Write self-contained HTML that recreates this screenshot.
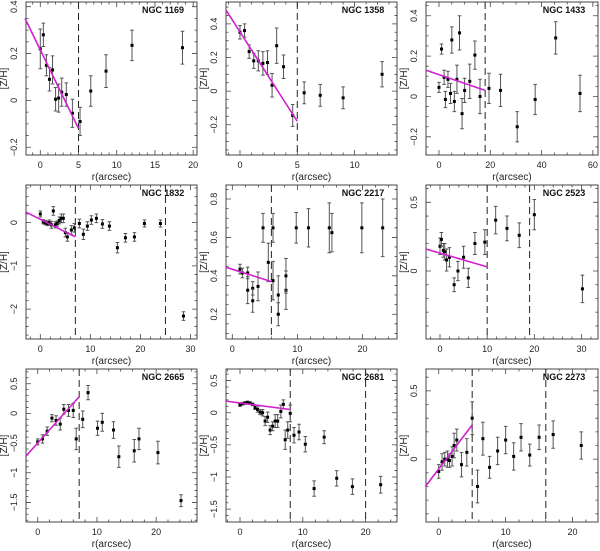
<!DOCTYPE html>
<html><head><meta charset="utf-8"><style>
html,body{margin:0;padding:0;background:#fff;}
svg{display:block;font-family:"Liberation Sans",sans-serif;}
</style></head><body>
<svg id="fig" width="600" height="551" viewBox="0 0 600 551" xmlns="http://www.w3.org/2000/svg"></svg>
<script>
// ---- data (per panel: r, [Z/H], error) ----
const p1r=[0,0.4,0.8,1.2,1.6,2.0,2.4,2.8,3.4,4.2,5.2,6.6,8.6,12,18.6];
const p1z=[0.22,0.28,0.15,0.09,0.13,0.005,0.01,0.035,0.025,-0.055,-0.09,0.04,0.125,0.235,0.225];
const p1e=[0.085,0.05,0.045,0.05,0.06,0.05,0.06,0.06,0.05,0.06,0.06,0.065,0.07,0.065,0.07];
const p2r=[0,0.4,0.8,1.2,1.6,2,2.4,2.8,3.2,3.8,4.6,5.6,7,9,12.4];
const p2z=[0.35,0.36,0.235,0.18,0.18,0.165,0.17,0.035,0.27,0.145,-0.145,-0.01,-0.025,-0.04,0.10];
const p2e=[0.04,0.04,0.04,0.045,0.06,0.07,0.07,0.07,0.105,0.07,0.065,0.065,0.065,0.065,0.075];
const p3r=[0,1,2,2.5,3.5,4.5,5,6,7,8,9,10,12,14,16,19.5,24,30.5,37.5,45.5,55];
const p3z=[0.045,0.235,0.095,-0.015,0.085,0.015,0.28,-0.025,0.085,0.315,-0.085,0.03,0.075,0.205,0,0.04,0.03,-0.15,-0.015,0.29,0.015];
const p3e=[0.025,0.025,0.035,0.04,0.04,0.05,0.065,0.05,0.07,0.085,0.075,0.06,0.085,0.07,0.085,0.075,0.08,0.075,0.075,0.08,0.09];
const p4r=[0,0.6,1,1.4,1.8,2.2,2.6,3,3.4,3.8,4.2,4.6,5,5.4,6.2,6.8,7.8,8.6,9.4,10.2,11.2,12.4,13.8,15.4,17,18.8,20.8,24,28.6];
const p4z=[0.2,0.02,0,-0.02,0,-0.05,0.27,-0.05,-0.02,0.05,0.1,0.1,-0.23,-0.33,-0.17,-0.12,-0.02,-0.27,-0.08,0.06,0.1,-0.03,-0.08,-0.58,-0.35,-0.33,-0.02,-0.02,-2.16];
const p4e=[0.07,0.05,0.05,0.05,0.06,0.08,0.1,0.07,0.06,0.08,0.1,0.1,0.1,0.1,0.1,0.1,0.1,0.12,0.1,0.1,0.1,0.1,0.1,0.12,0.1,0.1,0.08,0.08,0.1];
const p5r=[1.18,1.54,2.36,2.36,3.13,3.13,3.95,4.72,5.53,6.25,6.25,7.06,7.06,8.24,8.24,9.82,11.7,14.9,15.3,19.9,23.1];
const p5z=[0.435,0.415,0.415,0.325,0.335,0.27,0.345,0.65,0.47,0.375,0.65,0.3,0.2,0.325,0.4,0.65,0.65,0.65,0.625,0.65,0.65];
const p5e=[0.025,0.025,0.03,0.07,0.035,0.06,0.075,0.075,0.1,0.1,0.075,0.1,0.06,0.1,0.09,0.08,0.1,0.13,0.1,0.13,0.15];
const p6r=[0,0.3,0.7,1,1.4,2,3,3.8,5,6,7.4,9.5,11.8,14.2,16.8,20,30.2];
const p6z=[0.18,0.23,0.15,0.14,0.08,0.1,-0.1,0,0.1,-0.05,0.2,0.21,0.37,0.31,0.26,0.41,-0.13];
const p6e=[0.06,0.05,0.05,0.06,0.08,0.07,0.05,0.07,0.08,0.07,0.08,0.09,0.1,0.09,0.09,0.11,0.1];
const p7r=[0,0.8,1.6,2.4,3.1,3.8,4.4,5.2,6,6.5,7.6,8.5,10.1,10.9,12.8,13.7,16.3,17.1,20.3,24.2];
const p7z=[-0.48,-0.43,-0.3,-0.08,-0.12,-0.18,0.07,0.05,0.05,-0.43,-0.1,0.35,-0.25,-0.15,-0.28,-0.73,-0.63,-0.43,-0.66,-1.47];
const p7e=[0.05,0.07,0.07,0.06,0.08,0.1,0.08,0.1,0.12,0.18,0.14,0.12,0.12,0.15,0.14,0.18,0.19,0.18,0.19,0.1];
const p8r=[0,0.4,0.8,1.2,1.6,2,2.4,2.8,3.2,3.6,4,4.4,4.8,5.2,5.6,6,6.5,6.9,7.2,7.6,8,8.6,9.4,10.4,11.8,13.4,15.4,17.9,22.4];
const p8z=[0.12,0.14,0.15,0.16,0.15,0.13,0.08,0.05,0.01,0,-0.13,-0.07,-0.27,-0.21,-0.13,-0.13,0.02,0.13,-0.42,-0.27,-0.01,-0.35,-0.3,-0.49,-1.18,-0.38,-1.02,-1.15,-1.12];
const p8e=[0.02,0.02,0.02,0.02,0.02,0.02,0.03,0.04,0.04,0.05,0.07,0.08,0.07,0.07,0.1,0.1,0.1,0.07,0.15,0.13,0.13,0.12,0.12,0.12,0.12,0.1,0.12,0.12,0.13];
const p9r=[0,0.5,0.9,1.3,1.6,2,2.3,2.7,3.4,4.2,5,5.8,6.6,7.6,8.8,10,11.2,12.3,13.6,15,17.1,21.3];
const p9z=[-0.09,-0.02,0,0,-0.01,0.02,0.1,0.14,-0.04,0.05,0.3,-0.2,0.15,-0.06,0.06,0.14,0.02,0.16,0.03,0.16,0.18,0.1];
const p9e=[0.05,0.06,0.05,0.06,0.05,0.07,0.09,0.08,0.09,0.1,0.12,0.12,0.12,0.08,0.1,0.1,0.1,0.1,0.08,0.09,0.1,0.1];
// fitted gradient endpoints (r, [Z/H])
const fitR=[[-2,5],[-1.2,5],[-5,18],[-3,7],[-1,6],[-3,10],[-2,7],[-2.2,8],[-2,5]];
const fitZ=[[0.35,-0.12],[0.48,-0.18],[0.13,0.03],[0.25,-0.33],[0.445,0.37],[0.16,0.03],[-0.72,0.28],[0.18,0.05],[-0.2,0.25]];
const dashR=[[5],[5],[18],[7,25],[6],[10,19],[7],[8,20],[5,16]];
const names=["NGC 1169","NGC 1358","NGC 1433","NGC 1832","NGC 2217","NGC 2523","NGC 2665","NGC 2681","NGC 2273"];
const xTicks=[[0,5,10,15,20],[0,5,10],[0,20,40,60],[0,10,20,30],[0,10,20],[0,10,20,30],[0,10,20],[0,10,20],[0,10,20]];
const yTicks=[[-0.2,0,0.2,0.4],[-0.2,0,0.2,0.4],[-0.2,0,0.2,0.4],[-2,-1,0],[0.2,0.4,0.6,0.8],[0,0.5],[-1.5,-1,-0.5,0,0.5],[-1.5,-1,-0.5,0,0.5],[0,0.5]];

// ---- layout (not data) ----
const cfg=[
 {f:[26,2,197,155],xr:[-1.87,20.5],yr:[-0.233,0.42],xm:1,ym:0.05},
 {f:[226,2,397,155],xr:[-1.22,13.7],yr:[-0.38,0.53],xm:1,ym:0.05},
 {f:[426,2,598,155],xr:[-5.06,62],yr:[-0.29,0.468],xm:5,ym:0.05},
 {f:[26,185,197,339],xr:[-2.86,31.3],yr:[-2.69,0.87],xm:2,ym:0.2},
 {f:[226,185,397,339],xr:[-0.97,25.3],yr:[0.071,0.873],xm:2,ym:0.05},
 {f:[426,185,598,339],xr:[-2.97,33.5],yr:[-0.495,0.626],xm:2,ym:0.1},
 {f:[26,369,197,522],xr:[-1.98,26.9],yr:[-1.83,0.748],xm:2,ym:0.1},
 {f:[226,369,397,522],xr:[-2.23,25],yr:[-1.7,0.68],xm:2,ym:0.1},
 {f:[426,369,598,522],xr:[-1.9,23.8],yr:[-0.46,0.66],xm:2,ym:0.1}
];
const R=[p1r,p2r,p3r,p4r,p5r,p6r,p7r,p8r,p9r];
const Z=[p1z,p2z,p3z,p4z,p5z,p6z,p7z,p8z,p9z];
const E=[p1e,p2e,p3e,p4e,p5e,p6e,p7e,p8e,p9e];
const NS="http://www.w3.org/2000/svg";
const svg=document.getElementById('fig');
function mk(t,a,p){const e=document.createElementNS(NS,t);for(const k in a)e.setAttribute(k,a[k]);(p||svg).appendChild(e);return e;}
function fmt(v){let s=(Math.round(v*10)/10).toString();return s.replace('-','\u2212');}
cfg.forEach((c,i)=>{
 const [x0,y0,x1,y1]=c.f;
 const sx=v=>x0+(v-c.xr[0])/(c.xr[1]-c.xr[0])*(x1-x0);
 const sy=v=>y1-(v-c.yr[0])/(c.yr[1]-c.yr[0])*(y1-y0);
 const g=mk('g',{});
 
 
 const fr=mk('rect',{x:x0,y:y0,width:x1-x0,height:y1-y0,fill:'none',stroke:'#444','stroke-width':1},g);
 
 
 let tp='';
 for(let v=Math.ceil(c.xr[0]/c.xm)*c.xm;v<=c.xr[1];v+=c.xm){const X=sx(v);tp+=`M${X} ${y1}v-2.5M${X} ${y0}v2.5`;}
 for(let v=Math.ceil(c.yr[0]/c.ym)*c.ym;v<=c.yr[1];v+=c.ym){const Y=sy(v);tp+=`M${x0} ${Y}h2.5M${x1} ${Y}h-2.5`;}
 xTicks[i].forEach(v=>{const X=sx(v);tp+=`M${X} ${y1}v-5M${X} ${y0}v5`;});
 yTicks[i].forEach(v=>{const Y=sy(v);tp+=`M${x0} ${Y}h5M${x1} ${Y}h-5`;});
 const tk=mk('path',{d:tp,stroke:'#444','stroke-width':0.8,fill:'none'},g);
 
 
 xTicks[i].forEach(v=>{const t=mk('text',{x:sx(v),y:y1+13,'font-size':9,'text-anchor':'middle',fill:'#222'},g);t.textContent=fmt(v);
  
  });
 yTicks[i].forEach(v=>{const X=x0-9,Y=sy(v);const t=mk('text',{x:X,y:Y,'font-size':9,'text-anchor':'middle',fill:'#222',transform:`rotate(-90 ${X} ${Y})`},g);t.textContent=fmt(v);
  
  });
 const yl=mk('text',{x:x0-19,y:(y0+y1)/2,'font-size':10,'text-anchor':'middle',fill:'#222',transform:`rotate(-90 ${x0-19} ${(y0+y1)/2})`},g);yl.textContent='[Z/H]';
 
 
 const xl=mk('text',{x:(x0+x1)/2,y:y1+25,'font-size':10,'text-anchor':'middle',fill:'#222'},g);xl.textContent='r(arcsec)';
 
 
 const ti=mk('text',{x:x1-34,y:y0+11,'font-size':9,'font-weight':'bold','text-anchor':'middle',fill:'#111'},g);ti.textContent=names[i];
 
 
 dashR[i].forEach(v=>{const l=mk('line',{x1:sx(v),x2:sx(v),y1:y0,y2:y1,stroke:'#222','stroke-width':1,'stroke-dasharray':'7,4'},g);
  
  });
 R[i].forEach((r,j)=>{
  const X=sx(r),Yt=sy(Z[i][j]+E[i][j]),Yb=sy(Z[i][j]-E[i][j]);
  const eb=mk('path',{d:`M${X} ${Yt}V${Yb}M${X-1.8} ${Yt}h3.6M${X-1.8} ${Yb}h3.6`,stroke:'#555','stroke-width':1,fill:'none'},g);
  
  
  const pt=mk('rect',{x:X-1.5,y:sy(Z[i][j])-1.5,width:3,height:3,fill:'#000'},g);
  
  
 });
 const fl=mk('line',{x1:sx(fitR[i][0]),y1:sy(fitZ[i][0]),x2:sx(fitR[i][1]),y2:sy(fitZ[i][1]),stroke:'#d020d0','stroke-width':1.6},g);
 
 
});
</script>
</body></html>
